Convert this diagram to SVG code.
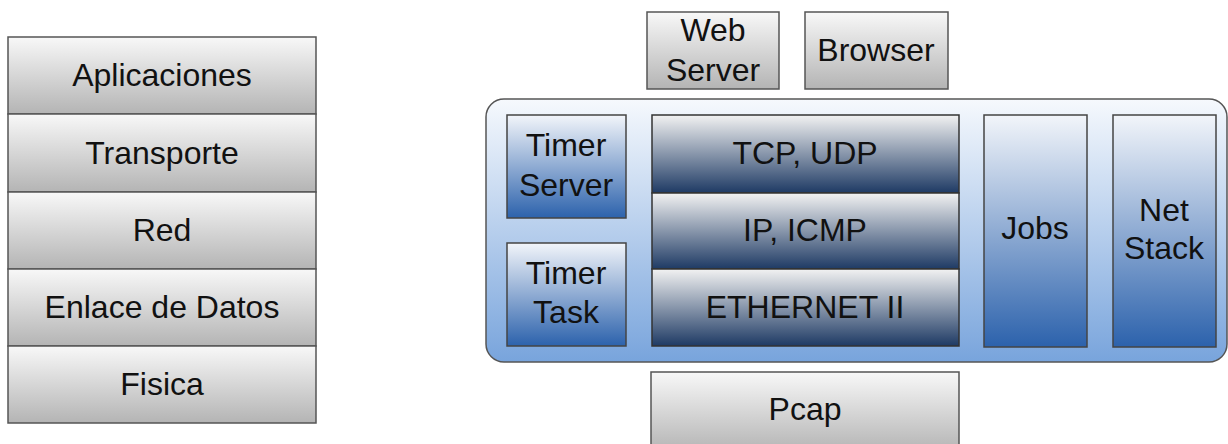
<svg xmlns="http://www.w3.org/2000/svg" width="1228" height="444" viewBox="0 0 1228 444">
<defs>
<linearGradient id="grey" x1="0" y1="0" x2="0" y2="1">
<stop offset="0" stop-color="#f8f8f8"/><stop offset="1" stop-color="#b4b4b4"/>
</linearGradient>
<linearGradient id="navy" x1="0" y1="0" x2="0" y2="1">
<stop offset="0" stop-color="#f2f2f2"/><stop offset="1" stop-color="#1e3a64"/>
</linearGradient>
<linearGradient id="blue" x1="0" y1="0" x2="0" y2="1">
<stop offset="0" stop-color="#f2f5fa"/><stop offset="1" stop-color="#2c62ac"/>
</linearGradient>
<linearGradient id="cont" x1="0" y1="0" x2="0" y2="1">
<stop offset="0" stop-color="#f6f9fd"/><stop offset="1" stop-color="#78a4dc"/>
</linearGradient>
</defs>
<style>
.g{fill:url(#grey);stroke:#555;stroke-width:1.5}
.n{fill:url(#navy);stroke:#333;stroke-width:1.5}
.b{fill:url(#blue);stroke:#444;stroke-width:1.5}
.c{fill:url(#cont);stroke:#555;stroke-width:1.5}
text{font-family:"Liberation Sans",Arial,sans-serif;font-size:32px;fill:#111;text-anchor:middle}
</style>
<g id="osi">
<g id="aplicaciones"><rect class="g" x="8" y="37" width="308" height="77"/><text x="162" y="86">Aplicaciones</text></g>
<g id="transporte"><rect class="g" x="8" y="114" width="308" height="78"/><text x="162" y="164">Transporte</text></g>
<g id="red"><rect class="g" x="8" y="192" width="308" height="77"/><text x="162" y="241">Red</text></g>
<g id="enlace"><rect class="g" x="8" y="269" width="308" height="77"/><text x="162" y="318">Enlace de Datos</text></g>
<g id="fisica"><rect class="g" x="8" y="346" width="308" height="77"/><text x="162" y="395">Fisica</text></g>
</g>
<g id="webserver"><rect class="g" x="647" y="12" width="132" height="77"/><text x="713" y="41">Web</text><text x="713" y="81">Server</text></g>
<g id="browser"><rect class="g" x="805" y="12" width="143" height="77"/><text x="876" y="61">Browser</text></g>
<g id="container"><rect class="c" x="486" y="99" width="741" height="263" rx="18" ry="18"/></g>
<g id="timerserver"><rect class="b" x="507" y="115" width="119" height="103"/><text x="566" y="156">Timer</text><text x="566" y="196">Server</text></g>
<g id="timertask"><rect class="b" x="507" y="243" width="119" height="103"/><text x="566" y="284">Timer</text><text x="566" y="323">Task</text></g>
<g id="tcp"><rect class="n" x="652" y="115" width="307" height="78"/><text x="805" y="164">TCP, UDP</text></g>
<g id="ip"><rect class="n" x="652" y="193" width="307" height="76"/><text x="805" y="241">IP, ICMP</text></g>
<g id="ethernet"><rect class="n" x="652" y="269" width="307" height="77"/><text x="805" y="318">ETHERNET II</text></g>
<g id="jobs"><rect class="b" x="984" y="115" width="103" height="232"/><text x="1035" y="239">Jobs</text></g>
<g id="netstack"><rect class="b" x="1113" y="115" width="103" height="232"/><text x="1164" y="221">Net</text><text x="1164" y="259">Stack</text></g>
<g id="pcap"><rect class="g" x="651" y="372" width="308" height="80"/><text x="805" y="420">Pcap</text></g>
<g id="connectors"></g>
</svg>
